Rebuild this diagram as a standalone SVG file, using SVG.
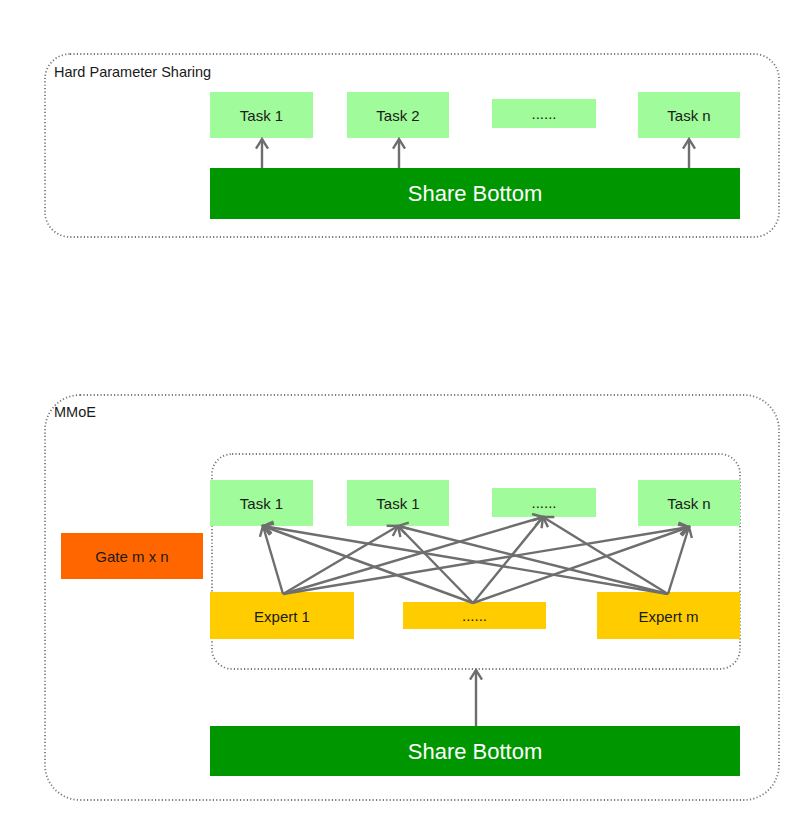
<svg xmlns="http://www.w3.org/2000/svg" width="802" height="827" viewBox="0 0 802 827">
<style>
.cont{fill:none;stroke:#7a7a7a;stroke-width:1.8;stroke-dasharray:1.2 2.2}
.task{fill:#a0fb9a}
.exp{fill:#ffcc00}
.gate{fill:#ff6600}
.sb{fill:#009600}
.t{font-family:"Liberation Sans",Arial,sans-serif;font-size:15px;fill:#1a1a1a;text-anchor:middle;dominant-baseline:central}
.tl{font-family:"Liberation Sans",Arial,sans-serif;font-size:14.5px;fill:#1a1a1a}
.ts{font-family:"Liberation Sans",Arial,sans-serif;font-size:22px;fill:#ffffff;text-anchor:middle;dominant-baseline:central}
.c{stroke:#6e6e6e;stroke-width:2.4;fill:none;marker-end:url(#ah)}
</style>
<defs>
<marker id="ah" viewBox="0 0 12 12" refX="10" refY="6" markerWidth="6" markerHeight="6" markerUnits="strokeWidth" orient="auto">
<path d="M2,1 L10,6 L2,11" fill="none" stroke="#6e6e6e" stroke-width="2"/>
</marker>
</defs>
<rect width="802" height="827" fill="#ffffff"/>

<g id="hps">
<rect class="cont" x="45" y="54" width="734" height="183" rx="25"/>
<text class="tl" x="54" y="77">Hard Parameter Sharing</text>
</g>
<g id="hps-task1"><rect class="task" x="210" y="92" width="103" height="46"/><text class="t" x="261.5" y="115">Task 1</text></g>
<g id="hps-task2"><rect class="task" x="347" y="92" width="102" height="46"/><text class="t" x="398" y="115">Task 2</text></g>
<g id="hps-dots"><rect class="task" x="492" y="99" width="104" height="29"/><text class="t" x="544" y="113">......</text></g>
<g id="hps-taskn"><rect class="task" x="638" y="92" width="102" height="46"/><text class="t" x="689" y="115">Task n</text></g>
<g id="hps-share"><rect class="sb" x="210" y="168" width="530" height="51"/><text class="ts" x="475" y="193.5">Share Bottom</text></g>

<g id="mmoe">
<rect class="cont" x="45" y="395" width="734" height="405" rx="35"/>
<text class="tl" x="54" y="417">MMoE</text>
</g>
<g id="mmoe-inner"><rect class="cont" x="212" y="454" width="528" height="215" rx="20"/></g>
<g id="m-task1"><rect class="task" x="210" y="480" width="103" height="46"/><text class="t" x="261.5" y="503">Task 1</text></g>
<g id="m-task1b"><rect class="task" x="347" y="480" width="102" height="46"/><text class="t" x="398" y="503">Task 1</text></g>
<g id="m-dots"><rect class="task" x="492" y="488" width="104" height="29"/><text class="t" x="544" y="502">......</text></g>
<g id="m-taskn"><rect class="task" x="638" y="480" width="102" height="46"/><text class="t" x="689" y="503">Task n</text></g>
<g id="gate"><rect class="gate" x="61" y="533" width="142" height="46"/><text class="t" x="132" y="556">Gate m x n</text></g>
<g id="expert1"><rect class="exp" x="210" y="592" width="144" height="47"/><text class="t" x="282" y="616">Expert 1</text></g>
<g id="expert-dots"><rect class="exp" x="403" y="602" width="143" height="27"/><text class="t" x="474.5" y="615">......</text></g>
<g id="expertm"><rect class="exp" x="597" y="592" width="143" height="47"/><text class="t" x="668.5" y="616">Expert m</text></g>
<g id="m-share"><rect class="sb" x="210" y="726" width="530" height="50"/><text class="ts" x="475" y="751">Share Bottom</text></g>

<g id="connectors">
<line class="c" x1="262" y1="168" x2="262" y2="139"/>
<line class="c" x1="399" y1="168" x2="399" y2="139"/>
<line class="c" x1="689" y1="168" x2="689" y2="139"/>

<line class="c" x1="283" y1="594" x2="263" y2="526"/>
<line class="c" x1="283" y1="594" x2="398" y2="526"/>
<line class="c" x1="283" y1="594" x2="543" y2="517"/>
<line class="c" x1="283" y1="594" x2="689" y2="527"/>

<line class="c" x1="473" y1="603" x2="263" y2="526"/>
<line class="c" x1="473" y1="603" x2="398" y2="526"/>
<line class="c" x1="473" y1="603" x2="543" y2="517"/>
<line class="c" x1="473" y1="603" x2="689" y2="527"/>

<line class="c" x1="668" y1="594" x2="263" y2="526"/>
<line class="c" x1="668" y1="594" x2="398" y2="526"/>
<line class="c" x1="668" y1="594" x2="543" y2="517"/>
<line class="c" x1="668" y1="594" x2="689" y2="527"/>

<line class="c" x1="476" y1="726" x2="476" y2="670"/>
</g>
</svg>
